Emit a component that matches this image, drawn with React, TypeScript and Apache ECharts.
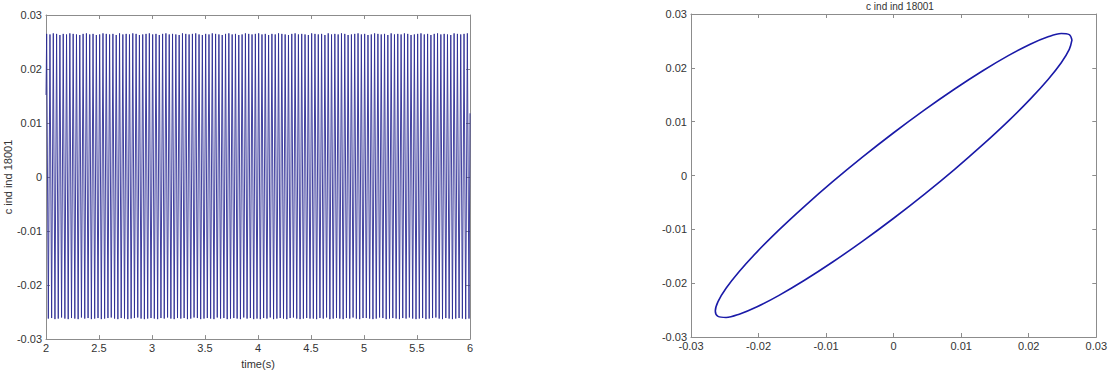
import React, { useEffect, useRef } from "react";
import * as echarts from "echarts";

// ---------- left panel: time signal ----------
const T_START = 2;
const T_END = 6;
const HALF_PERIOD = 4 / 256; // time between successive extremes (s)
const START_VALUE = 0.0152;
const END_VALUE = 0.0118;
const PEAKS = [
  0.0265, 0.0264, 0.0266, 0.0265, 0.0263, 0.0265, 0.0264, 0.0266, 0.0265, 0.0264, 0.0263, 0.0265, 0.0266, 0.0264, 0.0265, 0.0263,
  0.0264, 0.0266, 0.0265, 0.0264, 0.0265, 0.0263, 0.0266, 0.0264, 0.0265, 0.0264, 0.0266, 0.0265, 0.0263, 0.0264, 0.0265, 0.0266,
  0.0264, 0.0265, 0.0263, 0.0265, 0.0266, 0.0264, 0.0265, 0.0264, 0.0263, 0.0266, 0.0265, 0.0264, 0.0265, 0.0266, 0.0264, 0.0263,
  0.0265, 0.0264, 0.0266, 0.0265, 0.0264, 0.0263, 0.0265, 0.0266, 0.0264, 0.0265, 0.0263, 0.0264, 0.0266, 0.0265, 0.0264, 0.0265,
  0.0266, 0.0264, 0.0265, 0.0263, 0.0265, 0.0264, 0.0266, 0.0265, 0.0264, 0.0263, 0.0265, 0.0266, 0.0264, 0.0265, 0.0264, 0.0263,
  0.0266, 0.0265, 0.0264, 0.0265, 0.0263, 0.0266, 0.0264, 0.0265, 0.0264, 0.0266, 0.0265, 0.0263, 0.0264, 0.0265, 0.0266, 0.0264,
  0.0265, 0.0263, 0.0264, 0.0266, 0.0265, 0.0264, 0.0265, 0.0263, 0.0266, 0.0264, 0.0265, 0.0264, 0.0266, 0.0265, 0.0263, 0.0264,
  0.0265, 0.0266, 0.0264, 0.0265, 0.0263, 0.0265, 0.0266, 0.0264, 0.0265, 0.0264, 0.0263, 0.0266, 0.0265, 0.0264, 0.0265, 0.0266,
];
const TROUGHS = [
  -0.0262, -0.0261, -0.0263, -0.0262, -0.0260, -0.0262, -0.0263, -0.0261, -0.0262, -0.0263, -0.0260, -0.0262, -0.0261, -0.0263, -0.0262, -0.0261,
  -0.0263, -0.0262, -0.0261, -0.0260, -0.0262, -0.0263, -0.0261, -0.0262, -0.0263, -0.0262, -0.0261, -0.0260, -0.0262, -0.0263, -0.0262, -0.0261,
  -0.0262, -0.0263, -0.0261, -0.0262, -0.0260, -0.0262, -0.0263, -0.0261, -0.0262, -0.0261, -0.0263, -0.0262, -0.0260, -0.0261, -0.0263, -0.0262,
  -0.0261, -0.0262, -0.0263, -0.0260, -0.0262, -0.0261, -0.0263, -0.0262, -0.0261, -0.0262, -0.0263, -0.0260, -0.0262, -0.0261, -0.0263, -0.0262,
  -0.0263, -0.0261, -0.0262, -0.0260, -0.0263, -0.0262, -0.0261, -0.0262, -0.0263, -0.0261, -0.0260, -0.0262, -0.0263, -0.0262, -0.0261, -0.0262,
  -0.0262, -0.0263, -0.0261, -0.0262, -0.0260, -0.0263, -0.0262, -0.0261, -0.0262, -0.0263, -0.0261, -0.0262, -0.0260, -0.0262, -0.0263, -0.0261,
  -0.0261, -0.0262, -0.0263, -0.0262, -0.0260, -0.0261, -0.0263, -0.0262, -0.0261, -0.0262, -0.0263, -0.0261, -0.0262, -0.0260, -0.0262, -0.0263,
  -0.0262, -0.0261, -0.0263, -0.0262, -0.0261, -0.0260, -0.0262, -0.0263, -0.0261, -0.0262, -0.0263, -0.0262, -0.0261, -0.0262, -0.0263, -0.0262,
];

// ---------- right panel: phase portrait (closed loop) ----------
const LOOP_X = [
  0.0264, 0.0260, 0.02481, 0.02286, 0.02022, 0.01697, 0.0132, 0.00903, 0.00458, 0.0,
  -0.00458, -0.00903, -0.0132, -0.01697, -0.02022, -0.02286, -0.02481, -0.0260, -0.0264,
  -0.0260, -0.02481, -0.02286, -0.02022, -0.01697, -0.0132, -0.00903, -0.00458, 0.0,
  0.00458, 0.00903, 0.0132, 0.01697, 0.02022, 0.02286, 0.02481, 0.0260, 0.0264,
];
const LOOP_Y = [
  0.02518, 0.02617, 0.02637, 0.02577, 0.02439, 0.02226, 0.01946, 0.01607, 0.01219, 0.00794,
  0.00345, -0.00115, -0.00572, -0.0101, -0.01418, -0.01783, -0.02095, -0.02342, -0.02518,
  -0.02617, -0.02637, -0.02577, -0.02439, -0.02226, -0.01946, -0.01607, -0.01219, -0.00794,
  -0.00345, 0.00115, 0.00572, 0.0101, 0.01418, 0.01783, 0.02095, 0.02342, 0.02518,
];

const TITLE = "c ind ind 18001";
const Y_NAME_LEFT = "c ind ind 18001";
const X_NAME_LEFT = "time(s)";

const FONT = "'Liberation Sans', Arial, sans-serif";
const AXIS_GRAY = "#8c8c8c";
const LABEL_COLOR = "#333333";

const fmt = (v: number) => String(Number(v.toFixed(2)));

export default function App() {
  const ref = useRef<HTMLDivElement>(null);

  useEffect(() => {
    if (!ref.current) return;
    const chart = echarts.init(ref.current, undefined, { renderer: "svg" });

    const signal: number[][] = [[T_START, START_VALUE]];
    for (let i = 0; i < PEAKS.length; i++) {
      signal.push([T_START + (2 * i + 0.4) * HALF_PERIOD, PEAKS[i]]);
      signal.push([T_START + (2 * i + 1.4) * HALF_PERIOD, TROUGHS[i]]);
    }
    signal.push([T_END, END_VALUE]);

    const loop = LOOP_X.map((x, i) => [x, LOOP_Y[i]]);

    const boxAxisBase = {
      axisLine: { show: true, onZero: false, lineStyle: { color: AXIS_GRAY, width: 1 } },
      axisTick: { show: true, inside: true, length: 4, lineStyle: { color: AXIS_GRAY } },
      splitLine: { show: false },
    };
    const labelStyle = { color: LABEL_COLOR, fontSize: 11, fontFamily: FONT };

    const mkX = (grid: number, min: number, max: number, interval: number, pos: "bottom" | "top", labels: boolean, extra: any = {}) => ({
      type: "value",
      gridIndex: grid,
      position: pos,
      min,
      max,
      interval,
      ...boxAxisBase,
      axisLabel: labels ? { ...labelStyle, margin: 3, formatter: (v: number) => fmt(v) } : { show: false },
      ...extra,
    });
    const mkY = (grid: number, pos: "left" | "right", labels: boolean, extra: any = {}) => ({
      type: "value",
      gridIndex: grid,
      position: pos,
      min: -0.03,
      max: 0.03,
      interval: 0.01,
      ...boxAxisBase,
      axisLabel: labels ? { ...labelStyle, margin: 4, formatter: (v: number) => fmt(v) } : { show: false },
      ...extra,
    });

    chart.setOption({
      animation: false,
      backgroundColor: "#ffffff",
      textStyle: { fontFamily: FONT },
      title: {
        text: TITLE,
        left: 895,
        top: -4,
        textAlign: "center",
        textStyle: { fontSize: 10, fontWeight: "normal", color: LABEL_COLOR, fontFamily: FONT },
      },
      grid: [
        { left: 46, top: 15, width: 424, height: 334, containLabel: false },
        { left: 691, top: 14, width: 410, height: 323, containLabel: false },
      ],
      xAxis: [
        mkX(0, 2, 6, 0.5, "bottom", true, {
          name: X_NAME_LEFT,
          nameLocation: "middle",
          nameGap: 16,
          nameTextStyle: { ...labelStyle, fontSize: 11 },
        }),
        mkX(0, 2, 6, 0.5, "top", false),
        mkX(1, -0.03, 0.03, 0.01, "bottom", true),
        mkX(1, -0.03, 0.03, 0.01, "top", false),
      ],
      yAxis: [
        mkY(0, "left", true, {
          name: Y_NAME_LEFT,
          nameLocation: "middle",
          nameGap: 33,
          nameRotate: 90,
          nameTextStyle: { ...labelStyle, fontSize: 11 },
        }),
        mkY(0, "right", false),
        mkY(1, "left", true),
        mkY(1, "right", false),
      ],
      series: [
        {
          type: "line",
          xAxisIndex: 0,
          yAxisIndex: 0,
          data: signal,
          showSymbol: false,
          symbol: "none",
          lineStyle: { color: "#2c2c94", width: 0.9 },
          z: 1,
        },
        {
          type: "line",
          xAxisIndex: 2,
          yAxisIndex: 2,
          data: loop,
          showSymbol: false,
          symbol: "none",
          smooth: 0.35,
          lineStyle: { color: "#1a1aa8", width: 1.6 },
        },
      ],
    });

    return () => chart.dispose();
  }, []);

  return (
    <div
      ref={ref}
      style={{ position: "absolute", left: 0, top: 0, width: 1110, height: 374, background: "#fff" }}
    />
  );
}
